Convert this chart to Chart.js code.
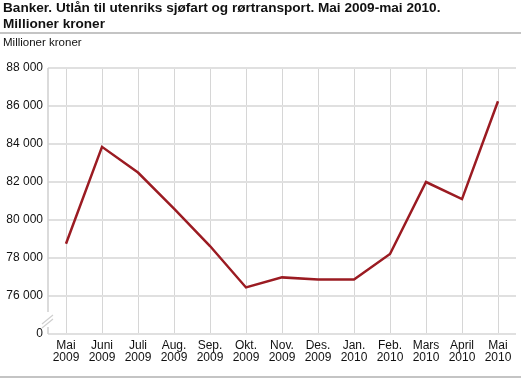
<!DOCTYPE html>
<html>
<head>
<meta charset="utf-8">
<script src="https://cdn.jsdelivr.net/npm/chart.js@4"></script>
<style>
  html, body { margin: 0; padding: 0; background: #fff; }
  body { width: 521px; height: 378px; position: relative; overflow: hidden; font-family: "Liberation Sans", Arial, sans-serif; }
  #title { position: absolute; left: 3px; top: 0px; font-weight: bold; font-size: 13.6px; line-height: 16px; color: #111; }
  #sep { position: absolute; left: 0; top: 32px; width: 521px; height: 2px; background: #c4c4c4; }
  #unit { position: absolute; left: 3px; top: 36px; font-size: 11.5px; color: #111; }
  #bottom { position: absolute; left: 0; top: 376px; width: 521px; height: 2px; background: #c4c4c4; }
  #wrap { position: absolute; left: 0; top: 0; width: 521px; height: 378px; }
</style>
</head>
<body>
<div id="wrap"><canvas id="c"></canvas></div>
<div id="title">Banker. Utlån til utenriks sjøfart og rørtransport. Mai 2009-mai 2010.<br>Millioner kroner</div>
<div id="unit">Millioner kroner</div>
<div id="sep"></div>
<div id="bottom"></div>
<script>
const months = ['Mai','Juni','Juli','Aug.','Sep.','Okt.','Nov.','Des.','Jan.','Feb.','Mars','April','Mai'];
const years = ['2009','2009','2009','2009','2009','2009','2009','2009','2010','2010','2010','2010','2010'];
const lending = [78750, 83850, 82500, 80600, 78630, 76450, 76980, 76870, 76870, 78210, 82000, 81100, 86250];
const yTicks = [74000, 76000, 78000, 80000, 82000, 84000, 86000, 88000];
const breakValue = 74000; // shown as "0" (axis break)

const labels = months.map((m, i) => [m, years[i]]);

function fmt(v) {
  if (v === breakValue) return '0';
  return String(v).replace(/\B(?=(\d{3})+(?!\d))/g, ' ');
}

const axisBreak = {
  id: 'axisBreak',
  afterDraw(chart) {
    const ctx = chart.ctx;
    const y = chart.scales.y;
    const x = y.right;
    const top = chart.chartArea.top;
    const bottom = chart.chartArea.bottom;
    ctx.save();
    ctx.strokeStyle = '#cfcfcf';
    ctx.lineWidth = 1.5;
    ctx.beginPath();
    ctx.moveTo(x, top);
    ctx.lineTo(x, bottom - 22);
    ctx.moveTo(x, bottom - 7);
    ctx.lineTo(x, bottom);
    ctx.stroke();
    ctx.lineWidth = 1.2;
    ctx.beginPath();
    ctx.moveTo(x - 6, bottom - 10);
    ctx.lineTo(x + 5, bottom - 19);
    ctx.moveTo(x - 6, bottom - 6);
    ctx.lineTo(x + 5, bottom - 15);
    ctx.stroke();
    ctx.restore();
  }
};

new Chart(document.getElementById('c'), {
  type: 'line',
  data: {
    labels: labels,
    datasets: [{
      data: lending,
      borderColor: '#9b1b22',
      borderWidth: 2.5,
      pointRadius: 0,
      tension: 0,
      fill: false
    }]
  },
  options: {
    responsive: true,
    maintainAspectRatio: false,
    animation: false,
    layout: { padding: { top: 68, right: 5, left: 0, bottom: 0 } },
    plugins: { legend: { display: false }, tooltip: { enabled: false }, title: { display: false } },
    scales: {
      x: {
        offset: true,
        grid: { color: '#d6d6d6', lineWidth: 1, drawTicks: false, offset: false },
        border: { display: false },
        ticks: { color: '#111', font: { family: 'Liberation Sans', size: 12, lineHeight: 1.05 }, padding: 5, maxRotation: 0, autoSkip: false },
        afterFit(scale) { scale.height = 44; }
      },
      y: {
        min: 74000,
        max: 88000,
        afterBuildTicks(scale) { scale.ticks = yTicks.map(v => ({ value: v })); },
        grid: { color: '#e0e0e0', lineWidth: 2, drawTicks: false },
        border: { display: false },
        ticks: { color: '#111', font: { family: 'Liberation Sans', size: 12 }, padding: 5, callback: v => fmt(v) },
        afterFit(scale) { scale.width = 48; }
      }
    }
  },
  plugins: [axisBreak]
});
</script>
</body>
</html>
